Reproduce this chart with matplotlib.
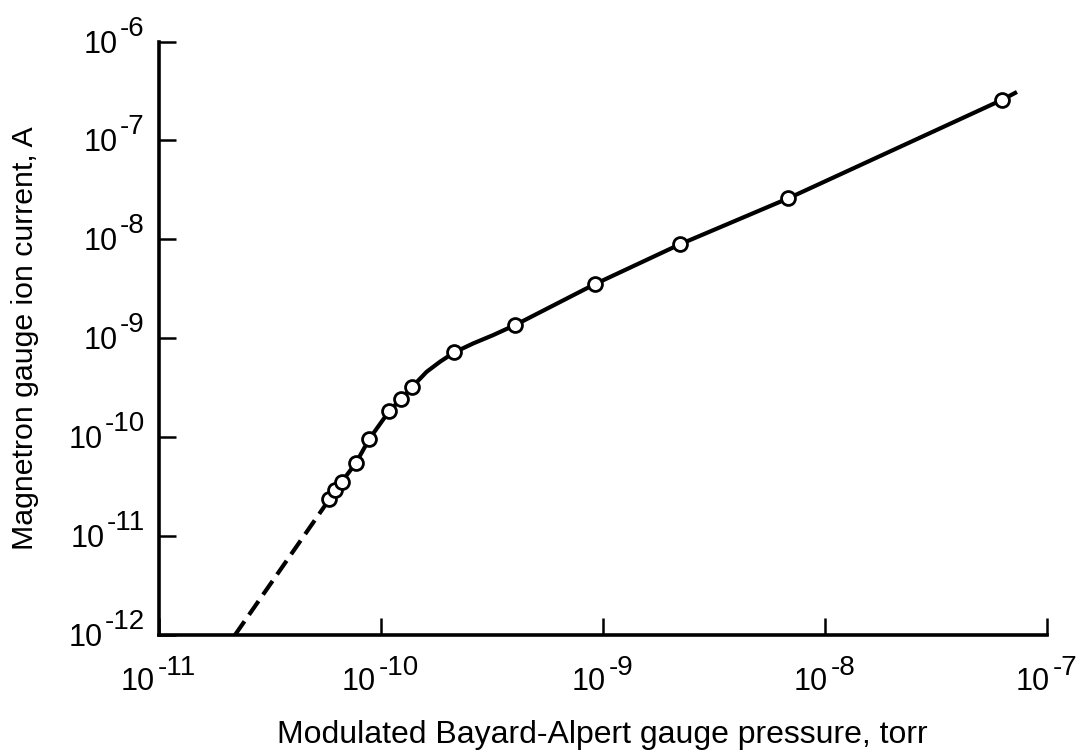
import matplotlib
matplotlib.use("Agg")
import matplotlib.pyplot as plt

plt.rcParams["font.family"] = ["Liberation Sans", "DejaVu Sans"]

# measured points (torr, A)
pressure = [5.88e-11, 6.24e-11, 6.69e-11, 7.76e-11, 8.88e-11, 1.095e-10, 1.237e-10,
            1.382e-10, 2.15e-10, 4.04e-10, 9.25e-10, 2.23e-9, 6.87e-9, 6.28e-8]
current = [2.35e-11, 2.92e-11, 3.54e-11, 5.51e-11, 9.5e-11, 1.84e-10, 2.43e-10,
           3.19e-10, 7.2e-10, 1.36e-9, 3.53e-9, 8.9e-9, 2.6e-8, 2.56e-7]

# faired curve as drawn on the original figure
curve_p = [5.88e-11, 6.24e-11, 6.69e-11, 7.76e-11, 8.88e-11, 1.095e-10, 1.237e-10,
           1.382e-10, 1.614e-10, 1.854e-10, 2.15e-10, 2.62e-10, 3.22e-10, 4.04e-10,
           9.25e-10, 2.23e-9, 6.87e-9, 6.28e-8, 7.36e-8]
curve_i = [2.35e-11, 2.92e-11, 3.54e-11, 5.51e-11, 9.5e-11, 1.84e-10, 2.43e-10,
           3.19e-10, 4.58e-10, 5.79e-10, 7.2e-10, 8.88e-10, 1.077e-9, 1.36e-9,
           3.53e-9, 8.9e-9, 2.6e-8, 2.56e-7, 3.09e-7]

# extrapolated (dashed) part
extrap_p = [2.21e-11, 5.88e-11]
extrap_i = [1e-12, 2.35e-11]

x_exps = [-11, -10, -9, -8, -7]
y_exps = [-12, -11, -10, -9, -8, -7, -6]

fig = plt.figure(figsize=(10.82, 7.52), dpi=100)
ax = fig.add_axes([0.1465, 0.1556, 0.8207, 0.7892])
ax.set_xscale("log")
ax.set_yscale("log")
ax.set_xlim(1e-11, 1e-7)
ax.set_ylim(1e-12, 1e-6)

lw = 3.0
ax.plot(curve_p, curve_i, color="black", lw=lw, solid_capstyle="butt",
        solid_joinstyle="round", zorder=2)
ax.plot(extrap_p, extrap_i, color="black", lw=lw, dashes=(4.0, 1.9), zorder=2)
ax.plot(pressure, current, "o", ms=10, mfc="white", mec="black", mew=2.0, zorder=3)

for side in ["top", "right"]:
    ax.spines[side].set_visible(False)
for side in ["left", "bottom"]:
    ax.spines[side].set_linewidth(2.6)
    ax.spines[side].set_clip_on(False)

ax.set_xticks([10.0 ** e for e in x_exps])
ax.set_yticks([10.0 ** e for e in y_exps])
ax.minorticks_off()
ax.tick_params(direction="in", length=12, width=1.8, labelbottom=False, labelleft=False)
for t in ax.xaxis.get_major_ticks() + ax.yaxis.get_major_ticks():
    t.tick1line.set_clip_on(False)

# power-of-ten labels with a large exponent, as in the original
r = fig.canvas.get_renderer()
base_fs, exp_fs = 22, 20
for e in x_exps:
    v = 10.0 ** e
    b = ax.annotate("10", xy=(v, 0), xycoords=("data", "axes fraction"),
                    xytext=(0, -55), textcoords="offset pixels",
                    ha="left", va="baseline", fontsize=base_fs)
    s = ax.annotate(str(e), xy=(v, 0), xycoords=("data", "axes fraction"),
                    xytext=(0, -40), textcoords="offset pixels",
                    ha="left", va="baseline", fontsize=exp_fs)
    w1 = b.get_window_extent(r).width
    w2 = s.get_window_extent(r).width
    gap = 3
    left = -(w1 + gap + w2) / 2
    b.xyann = (left, -55)
    s.xyann = (left + w1 + gap, -40)

for e in y_exps:
    v = 10.0 ** e
    s = ax.annotate(str(e), xy=(0, v), xycoords=("axes fraction", "data"),
                    xytext=(-14, 6), textcoords="offset pixels",
                    ha="right", va="baseline", fontsize=exp_fs)
    w2 = s.get_window_extent(r).width
    ax.annotate("10", xy=(0, v), xycoords=("axes fraction", "data"),
                xytext=(-14 - w2 - 2, -11), textcoords="offset pixels",
                ha="right", va="baseline", fontsize=base_fs)

fig.text(602 / 1082, 1 - 743 / 752, "Modulated Bayard-Alpert gauge pressure, torr",
         ha="center", va="baseline", fontsize=23)
fig.text(25 / 1082, 1 - 338 / 752, "Magnetron gauge ion current, A",
         rotation=90, ha="center", va="center", fontsize=21.8)

fig.savefig("out.png", dpi=100)
